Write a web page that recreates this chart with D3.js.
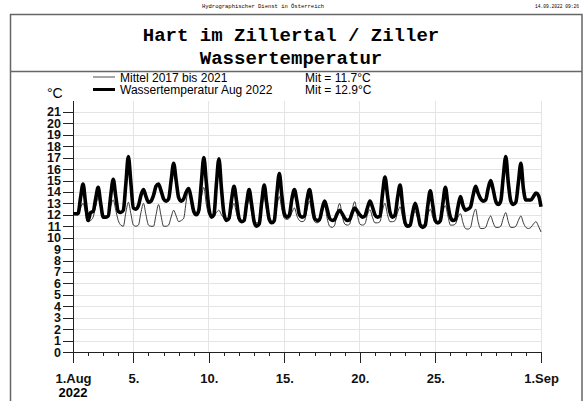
<!DOCTYPE html>
<meta charset="utf-8">
<style>
body { margin: 0; background: #fff; }
svg { display: block; font-family: "Liberation Sans", Arial, sans-serif; }
.grid line { stroke: #e4e4e4; shape-rendering: crispEdges; }
.axis path, .axis line { stroke: #222; shape-rendering: crispEdges; }
.axis text { font-size: 13px; font-weight: bold; fill: #111; }
.axis.y text { font-size: 12.5px; }
.frame { stroke: #666; stroke-width: 1.5; fill: none; }
</style>
<body>
<div id="chart"></div>
<script src="https://cdnjs.cloudflare.com/ajax/libs/d3/7.8.5/d3.min.js"></script>
<script>
// samples every 4 hours from 1 Aug 2022 00:00 (0h,4h,8h,12h,16h,20h per row), last value = 1 Sep 00:00
var wasser2022 = [
  12.1, 12.1, 12.1, 13.5, 14.7, 13.0,
  11.5, 12.2, 12.3, 13.4, 14.4, 13.0,
  11.8, 11.8, 11.9, 13.7, 15.1, 13.6,
  12.3, 12.2, 12.4, 14.7, 17.1, 14.8,
  12.6, 12.5, 12.8, 13.7, 14.2, 13.6,
  13.1, 13.2, 13.7, 14.5, 14.7, 14.1,
  13.4, 13.2, 13.4, 15.0, 16.5, 15.0,
  13.5, 13.2, 13.4, 14.0, 14.3, 13.4,
  12.3, 12.0, 12.4, 14.8, 17.0, 14.8,
  12.6, 11.8, 12.0, 14.7, 16.9, 14.3,
  12.1, 11.5, 11.7, 13.3, 14.5, 13.2,
  11.7, 11.4, 11.5, 13.0, 14.2, 12.9,
  11.4, 11.0, 11.2, 13.1, 14.6, 13.0,
  11.6, 11.3, 11.5, 13.8, 15.6, 13.7,
  12.1, 11.8, 12.0, 13.4, 14.2, 13.2,
  12.0, 11.8, 11.9, 13.3, 14.2, 13.0,
  11.7, 11.5, 11.6, 12.5, 13.2, 12.5,
  11.7, 11.5, 11.6, 12.1, 12.4, 12.1,
  11.7, 11.5, 11.6, 12.2, 12.6, 12.3,
  12.0, 11.8, 11.9, 12.6, 13.2, 12.7,
  12.0, 11.8, 11.9, 13.8, 15.3, 13.7,
  12.2, 11.8, 12.0, 13.5, 14.6, 12.8,
  11.3, 11.0, 11.1, 12.2, 13.0, 12.2,
  11.1, 10.9, 11.1, 12.8, 14.1, 12.8,
  11.5, 11.3, 11.5, 13.0, 14.4, 12.9,
  11.8, 11.5, 11.6, 12.7, 13.6, 12.8,
  12.4, 12.5, 12.7, 13.7, 14.5, 13.9,
  13.4, 13.2, 13.3, 14.3, 15.0, 14.2,
  13.2, 12.9, 13.2, 15.3, 17.1, 14.8,
  13.2, 12.9, 13.1, 14.8, 16.5, 14.3,
  13.3, 13.3, 13.3, 13.6, 13.9, 13.7,
  12.7
];
var mittel1721 = [
  12.1, 12.0, 12.0, 12.6, 13.0, 12.2,
  11.4, 11.5, 11.8, 12.7, 13.5, 12.7,
  11.9, 11.7, 11.8, 12.8, 13.3, 12.4,
  11.5, 11.1, 11.0, 12.2, 13.1, 12.1,
  11.1, 11.0, 11.1, 12.2, 13.0, 12.0,
  11.1, 11.0, 11.0, 12.0, 12.9, 11.9,
  11.0, 11.0, 11.1, 11.8, 12.4, 11.9,
  11.4, 11.5, 11.7, 13.2, 14.4, 13.0,
  12.1, 12.0, 12.1, 13.5, 14.4, 12.9,
  12.0, 11.9, 11.9, 12.2, 12.4, 12.0,
  11.7, 11.5, 11.5, 12.4, 13.0, 12.1,
  11.5, 11.4, 11.5, 12.6, 13.3, 12.2,
  11.4, 11.3, 11.4, 12.7, 13.5, 12.4,
  11.6, 11.4, 11.6, 12.7, 13.6, 12.5,
  11.7, 11.6, 11.7, 12.2, 12.6, 11.9,
  11.5, 11.4, 11.5, 12.5, 13.2, 12.1,
  11.4, 11.3, 11.4, 12.2, 12.8, 11.7,
  11.0, 10.9, 11.1, 12.3, 13.0, 11.9,
  11.2, 11.1, 11.2, 12.5, 13.15, 12.0,
  11.2, 11.1, 11.2, 12.0, 12.45, 11.8,
  11.3, 11.3, 11.4, 12.4, 13.0, 12.0,
  11.4, 11.4, 11.5, 12.2, 12.7, 11.8,
  11.1, 11.1, 11.2, 11.9, 12.3, 11.7,
  11.2, 11.1, 11.2, 12.0, 12.5, 11.8,
  11.3, 11.2, 11.3, 12.3, 12.8, 11.9,
  11.1, 11.1, 11.2, 11.8, 12.1, 11.3,
  10.8, 10.75, 10.9, 11.9, 12.5, 11.4,
  10.8, 10.8, 10.9, 11.5, 11.9, 11.3,
  10.9, 10.9, 11.0, 11.7, 12.2, 11.4,
  10.9, 10.9, 11.0, 11.5, 11.9, 11.3,
  10.9, 10.8, 10.9, 11.2, 11.4, 11.0,
  10.5
];
var yTicks = d3.range(0, 22);
var majorDays = [1, 5, 10, 15, 20, 25];
var legendNames = ["Mittel 2017 bis 2021", "Wassertemperatur Aug 2022"];
var legendMeans = ["Mit = 11.7°C", "Mit = 12.9°C"];

var W = 586, H = 401;
var svg = d3.select("#chart").append("svg").attr("width", W).attr("height", H);

var start = new Date(Date.UTC(2022, 7, 1)), end = new Date(Date.UTC(2022, 8, 1));
var x = d3.scaleUtc().domain([start, end]).range([73, 541]);
var y = d3.scaleLinear().domain([0, 22]).range([352, 100.5]);

// header + frame
svg.append("text").attr("x", 263).attr("y", 8).attr("text-anchor", "middle")
  .style("font-family", "Liberation Mono").style("font-size", "5.5px").text("Hydrographischer Dienst in Österreich");
svg.append("text").attr("x", 579).attr("y", 7.5).attr("text-anchor", "end")
  .style("font-family", "Liberation Mono").style("font-size", "4.6px").text("14.09.2022 09:26");
svg.append("path").attr("class", "frame").attr("d", "M10.5,401V14.5H582V401");
svg.append("line").attr("class", "frame").attr("x1", 10.5).attr("x2", 582).attr("y1", 71.5).attr("y2", 71.5);

svg.append("text").attr("x", 291).attr("y", 41).attr("text-anchor", "middle")
  .style("font-family", "Liberation Mono").style("font-weight", "bold").style("font-size", "19px")
  .text("Hart im Zillertal / Ziller");
svg.append("text").attr("x", 291).attr("y", 64).attr("text-anchor", "middle")
  .style("font-family", "Liberation Mono").style("font-weight", "bold").style("font-size", "19px")
  .text("Wassertemperatur");

// legend
var leg = svg.append("g").selectAll("g").data(legendNames).join("g")
  .attr("transform", function(d, i) { return "translate(0," + (77 + i * 12.5) + ")"; });
leg.append("line").attr("x1", 93).attr("x2", 115)
  .attr("stroke", function(d, i) { return i ? "#000" : "#888"; })
  .attr("stroke-width", function(d, i) { return i ? 3 : 1.5; });
leg.append("text").attr("x", 120).attr("y", 4.5).style("font-size", "12px").text(function(d) { return d; });
leg.append("text").attr("x", 305).attr("y", 4.5).style("font-size", "12px").text(function(d, i) { return legendMeans[i]; });

svg.append("text").attr("x", 47).attr("y", 98).style("font-size", "14px").text("°C");

// grid
var days = d3.utcDay.range(start, d3.utcDay.offset(end, 1));
var majors = majorDays.map(function(d) { return new Date(Date.UTC(2022, 7, d)); }).concat([end]);
svg.append("g").attr("class", "grid").selectAll("line").data(yTicks.slice(1)).join("line")
  .attr("x1", 73).attr("x2", 541).attr("y1", function(d) { return Math.round(y(d)) + 0.5; })
  .attr("y2", function(d) { return Math.round(y(d)) + 0.5; });
svg.append("g").attr("class", "grid").selectAll("line").data(majors.slice(1)).join("line")
  .attr("y1", 100.5).attr("y2", 352).attr("x1", function(d) { return x(d); }).attr("x2", function(d) { return x(d); });

// axes
svg.append("g").attr("class", "axis y").attr("transform", "translate(73,0)")
  .call(d3.axisLeft(y).tickValues(yTicks).tickSize(10).tickSizeOuter(0).tickPadding(2).tickFormat(d3.format("d")));
svg.append("g").attr("class", "axis").attr("transform", "translate(0,352)")
  .call(d3.axisBottom(x).tickValues(days).tickSize(4).tickSizeOuter(0).tickFormat(""));
var fmtX = function(d) {
  if (+d === +start) return "1.Aug";
  if (+d === +end) return "1.Sep";
  return d.getUTCDate() + ".";
};
svg.append("g").attr("class", "axis").attr("transform", "translate(0,352)")
  .call(d3.axisBottom(x).tickValues(majors).tickSize(11).tickSizeOuter(0).tickPadding(11).tickFormat(fmtX))
  .call(function(g) { g.select(".domain").remove(); });
svg.append("text").attr("x", x(start)).attr("y", 397).attr("text-anchor", "middle")
  .style("font-size", "13px").style("font-weight", "bold").text("2022");

// series
var t = function(i) { return d3.utcHour.offset(start, i * 4); };
var line = d3.line().x(function(d, i) { return x(t(i)); }).y(function(d) { return y(d); }).curve(d3.curveMonotoneX);
svg.append("path").datum(mittel1721).attr("d", line).attr("fill", "none").attr("stroke", "#222").attr("stroke-width", 0.9);
svg.append("path").datum(wasser2022).attr("d", line).attr("fill", "none").attr("stroke", "#000").attr("stroke-width", 3.6)
  .attr("stroke-linejoin", "round");
</script>
</body>
